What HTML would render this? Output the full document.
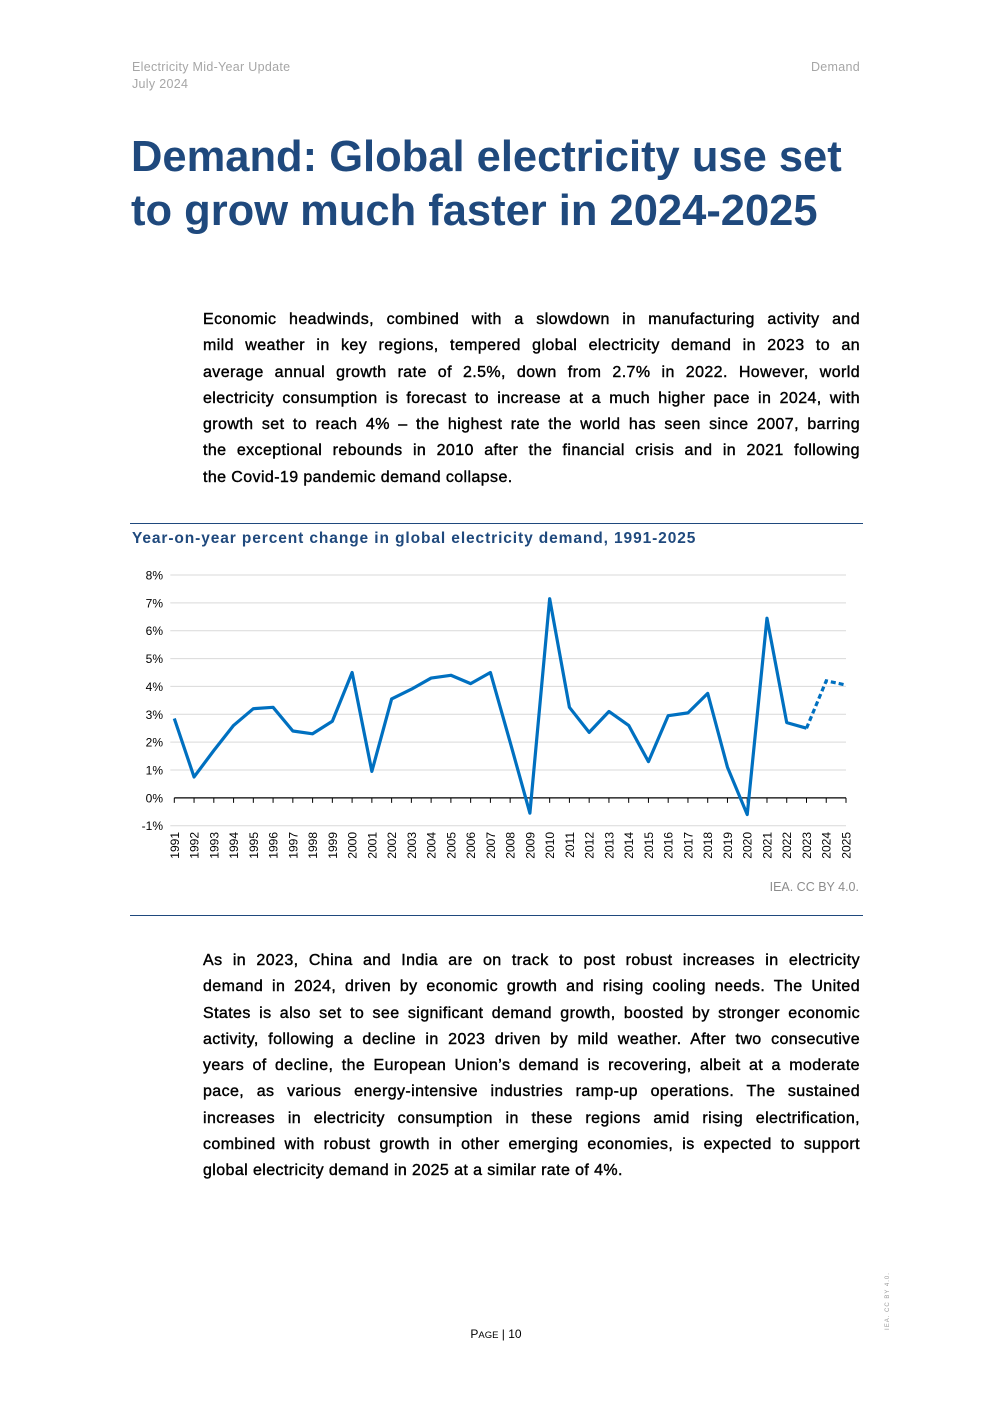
<!DOCTYPE html>
<html><head><meta charset="utf-8"><style>
body{margin:0;width:992px;height:1403px;background:#fff;position:relative;font-family:"Liberation Sans",Arial,sans-serif;overflow:hidden}
.hdr{position:absolute;top:59px;font-size:12.5px;color:#a6a6a6;line-height:17px;letter-spacing:0.3px}
h1{position:absolute;left:131px;top:130px;margin:0;font-size:43.5px;line-height:54px;color:#1f497d;font-weight:bold;width:760px}
.p{position:absolute;left:203px;width:657px;font-size:16px;line-height:26.3px;color:#000;margin:0;-webkit-text-stroke:0.4px #000;letter-spacing:0.4px}
.p span{display:block;white-space:nowrap;text-align:justify;text-align-last:justify}
.p span.last{text-align-last:left}
.rule{position:absolute;left:130px;width:733px;height:1px;background:#1f497d}
</style></head><body>
<div class="hdr" style="left:132px">Electricity Mid-Year Update<br>July 2024</div>
<div class="hdr" style="right:132px">Demand</div>
<h1>Demand: Global electricity use set to grow much faster in 2024-2025</h1>
<p class="p" style="top:307px"><span>Economic headwinds, combined with a slowdown in manufacturing activity and</span><span>mild weather in key regions, tempered global electricity demand in 2023 to an</span><span>average annual growth rate of 2.5%, down from 2.7% in 2022. However, world</span><span>electricity consumption is forecast to increase at a much higher pace in 2024, with</span><span>growth set to reach 4% – the highest rate the world has seen since 2007, barring</span><span>the exceptional rebounds in 2010 after the financial crisis and in 2021 following</span><span class="last">the Covid-19 pandemic demand collapse.</span></p>
<div class="rule" style="top:523px"></div>
<div style="position:absolute;left:132px;top:530px;font-size:15.5px;font-weight:bold;color:#1f497d;letter-spacing:0.9px">Year-on-year percent change in global electricity demand, 1991-2025</div>
<svg id="chart" style="position:absolute;left:0;top:0" width="992" height="900"></svg>
<div style="position:absolute;right:133px;top:880px;font-size:12.5px;color:#8c8c8c">IEA. CC BY 4.0.</div>
<div class="rule" style="top:915px"></div>
<p class="p" style="top:948px"><span>As in 2023, China and India are on track to post robust increases in electricity</span><span>demand in 2024, driven by economic growth and rising cooling needs. The United</span><span>States is also set to see significant demand growth, boosted by stronger economic</span><span>activity, following a decline in 2023 driven by mild weather. After two consecutive</span><span>years of decline, the European Union’s demand is recovering, albeit at a moderate</span><span>pace, as various energy-intensive industries ramp-up operations. The sustained</span><span>increases in electricity consumption in these regions amid rising electrification,</span><span>combined with robust growth in other emerging economies, is expected to support</span><span class="last">global electricity demand in 2025 at a similar rate of 4%.</span></p>
<div style="position:absolute;left:0;width:992px;top:1327px;text-align:center;font-size:12px;color:#000">P<span style="font-size:9.5px">AGE</span> | 10</div>
<div style="position:absolute;left:858px;top:1298px;transform:rotate(-90deg);font-size:6px;color:#999;letter-spacing:1px;width:60px;text-align:center">IEA. CC BY 4.0.</div>
<script>
const years=[1991,1992,1993,1994,1995,1996,1997,1998,1999,2000,2001,2002,2003,2004,2005,2006,2007,2008,2009,2010,2011,2012,2013,2014,2015,2016,2017,2018,2019,2020,2021,2022,2023,2024,2025];
const growth=[2.85,0.75,1.7,2.6,3.2,3.25,2.4,2.3,2.75,4.5,0.95,3.55,3.9,4.3,4.4,4.1,4.5,2.0,-0.55,7.15,3.25,2.35,3.1,2.6,1.3,2.95,3.05,3.75,1.1,-0.6,6.45,2.7,2.5,4.2,4.05];
const forecastStart=2023;
const yTicks=[8,7,6,5,4,3,2,1,0,-1];
const NS="http://www.w3.org/2000/svg";
const svg=document.getElementById('chart');
const x0=174.3,x1=846,yTop=575,yBot=825.7,vMax=8,vMin=-1;
const X=i=>x0+(x1-x0)*i/(years.length-1);
const Y=v=>yTop+(vMax-v)*(yBot-yTop)/(vMax-vMin);
function mk(t,a){const e=document.createElementNS(NS,t);for(const k in a)e.setAttribute(k,a[k]);svg.appendChild(e);return e;}
yTicks.forEach(t=>{
 if(t!==0){const g=mk('line',{x1:x0-4,x2:x1,y1:Y(t),y2:Y(t),stroke:'#d9d9d9','stroke-width':1});
 
 }
 const l=mk('text',{x:163,y:Y(t)+4.5,'text-anchor':'end','font-size':12,fill:'#000','font-family':'Liberation Sans, Arial, sans-serif'});
 l.textContent=t+'%';
 
 
});
const ax=mk('line',{x1:x0,x2:x1,y1:Y(0),y2:Y(0),stroke:'#000','stroke-width':1.2});


years.forEach((yr,i)=>{
 const tk=mk('line',{x1:X(i),x2:X(i),y1:Y(0),y2:Y(0)+5,stroke:'#000','stroke-width':1});
 
 
 const t=mk('text',{x:0,y:0,'font-size':12,fill:'#000','font-family':'Liberation Sans, Arial, sans-serif','text-anchor':'end',transform:`translate(${X(i)+4.5},832) rotate(-90)`});
 t.textContent=yr;
 
 
});
const fi=years.indexOf(forecastStart);
let d1='',d2='';
growth.forEach((v,i)=>{if(i<=fi)d1+=(i?'L':'M')+X(i)+','+Y(v);if(i>=fi)d2+=(i>fi?'L':'M')+X(i)+','+Y(v);});
const p1=mk('path',{d:d1,fill:'none',stroke:'#0070c0','stroke-width':3.2,'stroke-linejoin':'round'});


const p2=mk('path',{d:d2,fill:'none',stroke:'#0070c0','stroke-width':3.2,'stroke-dasharray':'5,3'});


</script>
</body></html>
